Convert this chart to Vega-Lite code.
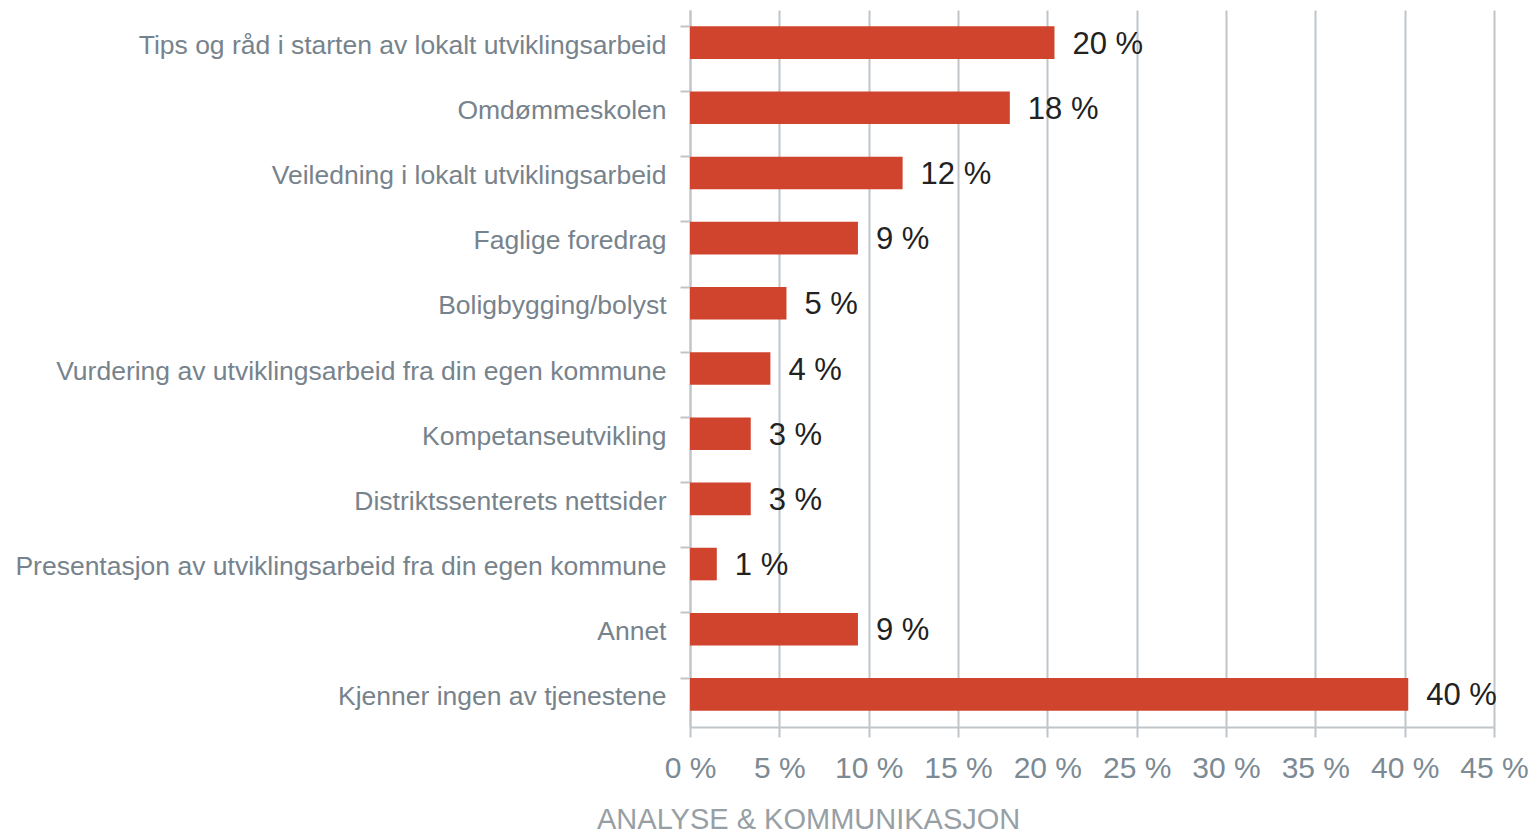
{
  "$schema": "https://vega.github.io/schema/vega-lite/v6.json",
  "autosize": {"type": "none"},
  "padding": {"left": 690, "top": 10, "right": 43, "bottom": 112},
  "width": 804,
  "height": 717,
  "background": "white",
  "title": {
    "text": "ANALYSE & KOMMUNIKASJON",
    "orient": "bottom",
    "anchor": "start",
    "frame": "group",
    "dx": -93,
    "offset": 23,
    "font": "Liberation Sans",
    "fontSize": 29,
    "fontWeight": "normal",
    "color": "#979fa5"
  },
  "data": {
    "values": [
      {"kategori": "Tips og råd i starten av lokalt utviklingsarbeid", "andel": 20.4, "etikett": "20 %"},
      {"kategori": "Omdømmeskolen", "andel": 17.9, "etikett": "18 %"},
      {"kategori": "Veiledning i lokalt utviklingsarbeid", "andel": 11.9, "etikett": "12 %"},
      {"kategori": "Faglige foredrag", "andel": 9.4, "etikett": "9 %"},
      {"kategori": "Boligbygging/bolyst", "andel": 5.4, "etikett": "5 %"},
      {"kategori": "Vurdering av utviklingsarbeid fra din egen kommune", "andel": 4.5, "etikett": "4 %"},
      {"kategori": "Kompetanseutvikling", "andel": 3.4, "etikett": "3 %"},
      {"kategori": "Distriktssenterets nettsider", "andel": 3.4, "etikett": "3 %"},
      {"kategori": "Presentasjon av utviklingsarbeid fra din egen kommune", "andel": 1.5, "etikett": "1 %"},
      {"kategori": "Annet", "andel": 9.4, "etikett": "9 %"},
      {"kategori": "Kjenner ingen av tjenestene", "andel": 40.2, "etikett": "40 %"}
    ]
  },
  "encoding": {
    "y": {
      "field": "kategori",
      "type": "nominal",
      "sort": null,
      "scale": {"paddingInner": 0.5, "paddingOuter": 0.25},
      "axis": {
        "title": null,
        "labelFont": "Liberation Sans",
        "labelFontSize": 26.5,
        "labelColor": "#77838c",
        "labelPadding": 14,
        "labelOffset": 3,
        "labelLimit": 700,
        "bandPosition": 0,
        "tickColor": "#c0c5ca",
        "tickSize": 10,
        "tickWidth": 2,
        "domainColor": "#c0c5ca",
        "domainWidth": 2,
        "grid": false
      }
    },
    "x": {
      "field": "andel",
      "type": "quantitative",
      "scale": {"domain": [0, 45], "nice": false},
      "axis": {
        "title": null,
        "values": [0, 5, 10, 15, 20, 25, 30, 35, 40, 45],
        "labelExpr": "datum.value + ' %'",
        "labelFont": "Liberation Sans",
        "labelFontSize": 30,
        "labelColor": "#7c8a93",
        "labelPadding": 16,
        "labelFlush": false,
        "labelOverlap": false,
        "tickColor": "#c0c5ca",
        "tickSize": 10,
        "tickWidth": 2,
        "domainColor": "#c0c5ca",
        "domainWidth": 2,
        "grid": true,
        "gridColor": "#c0c5ca",
        "gridWidth": 2
      }
    }
  },
  "layer": [
    {"mark": {"type": "bar", "color": "#d0432d"}},
    {
      "mark": {
        "type": "text",
        "align": "left",
        "baseline": "middle",
        "dx": 18,
        "dy": 2,
        "font": "Liberation Sans",
        "fontSize": 31,
        "color": "#222222"
      },
      "encoding": {"text": {"field": "etikett"}}
    }
  ],
  "config": {"view": {"stroke": null}}
}
